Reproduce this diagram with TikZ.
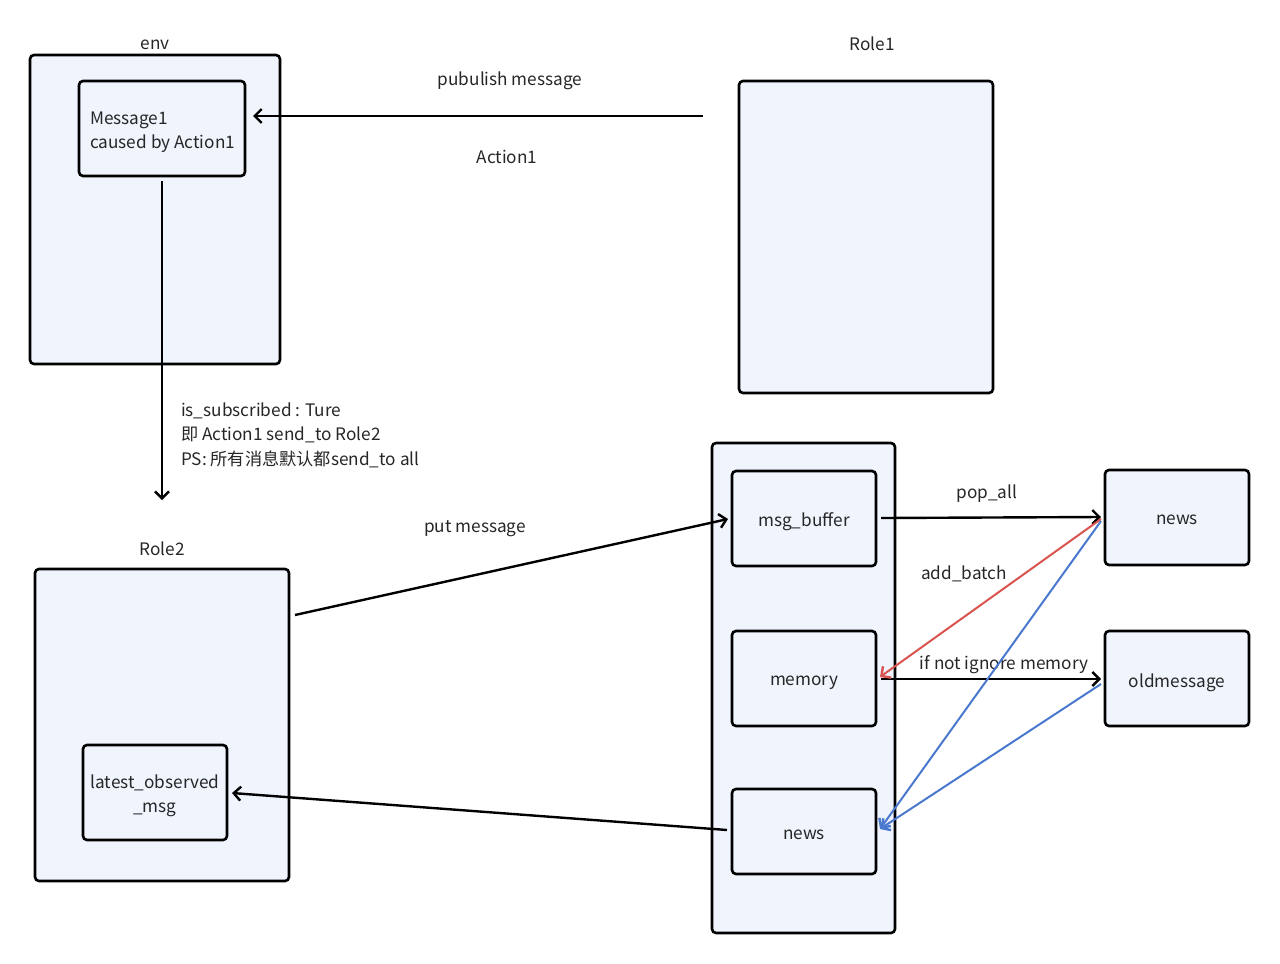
\documentclass[tikz,border=0pt]{standalone}
\usepackage{fontspec}
\setmainfont{Noto Sans CJK SC}
\usetikzlibrary{arrows.meta}
\definecolor{boxfill}{HTML}{EFF4FD}
\definecolor{redline}{HTML}{D9534F}
\definecolor{blueline}{HTML}{4A78CE}
\begin{document}
\begin{tikzpicture}[x=1pt,y=-1pt,
  every node/.style={font=\fontsize{17.2}{24.5}\selectfont, text=black!85},
  box/.style={draw=black, line width=2.6pt, fill=boxfill, rounded corners=4pt},
  lbl/.style={inner sep=0pt, yshift=-2pt},
  arr/.style={line width=2.4pt, -{Straight Barb[length=7pt,width=14pt,line width=2.4pt]}},
  plain/.style={line width=2.4pt}]
\useasboundingbox (0,0) rectangle (1280,964);
% boxes
\draw[box] (30,55) rectangle (280,364);
\node[lbl] (envl) at (155,43) {env};
\draw[box] (79,81) rectangle (245,176);
\coordinate (m1e) at (245,116);
\coordinate (m1s) at (162,181);
\node[lbl, anchor=west, align=left] (m1) at (90,130) {Message1\\caused by Action1};
\node[lbl] (role1l) at (872,42) {Role1};
\draw[box] (739,81) rectangle (993,393);
\coordinate (r1w) at (703,116);
\node[lbl] (publ) at (510,79) {pubulish message};
\node[lbl] (act1) at (507,155) {Action1};
\draw[arr] (r1w) -- ([xshift=8pt]m1e);
% vertical
\coordinate (v2) at (162,500);
\draw[arr] (m1s) -- (v2);
\node[lbl, anchor=west, align=left] (subl) at (181,433) {is\_subscribed : Ture\\即 Action1 send\_to Role2\\PS: 所有消息默认都send\_to all};
% Role2
\node[lbl] (role2l) at (162,547) {Role2};
\draw[box] (35,569) rectangle (289,881);
\draw[box] (83,745) rectangle (227,840);
\node[lbl, align=center] (lat) at (155,794) {latest\_observed\\\_msg};
\coordinate (late) at (232,793);
% right big
\draw[box] (712,443) rectangle (895,933);
\draw[box] (732,471) rectangle (876,566);
\node[lbl] (mb) at (804,520) {msg\_buffer};
\draw[box] (732,631) rectangle (876,726);
\node[lbl] (mem) at (804,681) {memory};
\draw[box] (732,789) rectangle (876,874);
\node[lbl] (news2) at (804,833) {news};
\draw[box] (1105,470) rectangle (1249,565);
\node[lbl] (news1) at (1177,518) {news};
\draw[box] (1105,631) rectangle (1249,726);
\node[lbl] (old) at (1177,681) {oldmessage};
% connectors
\coordinate (r2e) at (295,615);
\coordinate (mbw) at (728,519);
\draw[arr] (r2e) -- (mbw);
\node[lbl] (putl) at (475,527) {put message};
\coordinate (mbe) at (881,518);
\coordinate (n1w) at (1101,517);
\draw[arr] (mbe) -- (n1w);
\node[lbl] (popl) at (987,492) {pop\_all};
\coordinate (meme) at (881,679);
\coordinate (oldw) at (1101,679);
\draw[arr] (meme) -- (oldw);
\node[lbl] (ifl) at (1004,663) {if not ignore memory};
\node[lbl] (addl) at (964,572) {add\_batch};
\coordinate (n1a) at (1101,519);
\coordinate (memr) at (880,677);
\draw[arr, draw=redline, line width=2pt] (n1a) -- (memr);
\coordinate (n1b) at (1101,521);
\coordinate (oldb) at (1101,684);
\coordinate (n2e) at (880,829);
\draw[arr, draw=blueline, line width=2pt] (n1b) -- (n2e);
\draw[arr, draw=blueline, line width=2pt] (oldb) -- (n2e);
\coordinate (n2w) at (727,830);
\draw[arr] (n2w) -- (late);
\end{tikzpicture}
\end{document}
